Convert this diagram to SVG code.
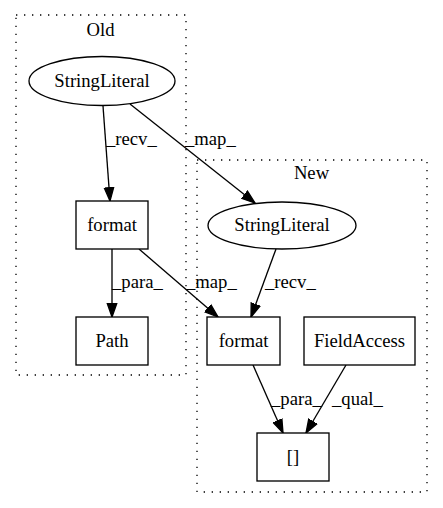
<svg xmlns="http://www.w3.org/2000/svg" width="443" height="508" viewBox="0 0 443 508">
<defs>
<marker id="ah" markerUnits="userSpaceOnUse" markerWidth="16" markerHeight="12" viewBox="0 -6 15 12" refX="13.3" refY="0" orient="auto">
<path d="M0,-4.67 L13.3,0 L0,4.67 z" fill="#000" stroke="#000" stroke-width="1.33"/>
</marker>
</defs>
<style>
.c{text-anchor:middle}
.cl{fill:none;stroke:#000;stroke-dasharray:1.33,6.67;stroke-width:1.33}
.n{fill:#fff;stroke:#000;stroke-width:1.33}
.e{fill:none;stroke:#000;stroke-width:1.33;marker-end:url(#ah)}
</style>
<rect width="443" height="508" fill="#fff"/>
<g font-family="Liberation Serif, Times New Roman, serif" font-size="18.67" fill="#000">
<g id="cluster_old">
<rect class="cl" x="16" y="15" width="170" height="360"/>
<text class="c" x="100.5" y="36">Old</text>
</g>
<g id="cluster_new">
<rect class="cl" x="197" y="160" width="230" height="332"/>
<text class="c" x="311.5" y="179">New</text>
</g>
<g id="edges">
<path class="e" d="M103,106 L110,201"/>
<text x="106" y="145">_recv_</text>
<path class="e" d="M130,104 L255,203"/>
<text x="185" y="145">_map_</text>
<path class="e" d="M276,249 L251,317"/>
<text x="265" y="288">_recv_</text>
<path class="e" d="M139,249 L218,317"/>
<text x="186" y="288">_map_</text>
<path class="e" d="M112,249 L112,317"/>
<text x="112" y="288">_para_</text>
<path class="e" d="M253,365 L283,433"/>
<text x="271" y="405">_para_</text>
<path class="e" d="M346,365 L306,433"/>
<text x="332" y="405">_qual_</text>
</g>
<g id="old_stringliteral">
<ellipse class="n" cx="102" cy="81" rx="73" ry="24.5"/>
<text class="c" x="102" y="87">StringLiteral</text>
</g>
<g id="old_format">
<rect class="n" x="76" y="201" width="72" height="48"/>
<text class="c" x="112" y="230.5">format</text>
</g>
<g id="old_path">
<rect class="n" x="76" y="317" width="72" height="48"/>
<text class="c" x="112" y="346.5">Path</text>
</g>
<g id="new_stringliteral">
<ellipse class="n" cx="282" cy="225.5" rx="74" ry="23.5"/>
<text class="c" x="282" y="231">StringLiteral</text>
</g>
<g id="new_format">
<rect class="n" x="207" y="317" width="73" height="48"/>
<text class="c" x="243.5" y="346.5">format</text>
</g>
<g id="fieldaccess">
<rect class="n" x="304" y="317" width="111" height="48"/>
<text class="c" x="359.5" y="346.5">FieldAccess</text>
</g>
<g id="index">
<rect class="n" x="257" y="433" width="72" height="48"/>
<text class="c" x="293" y="462.5">[]</text>
</g>
</g>
</svg>
